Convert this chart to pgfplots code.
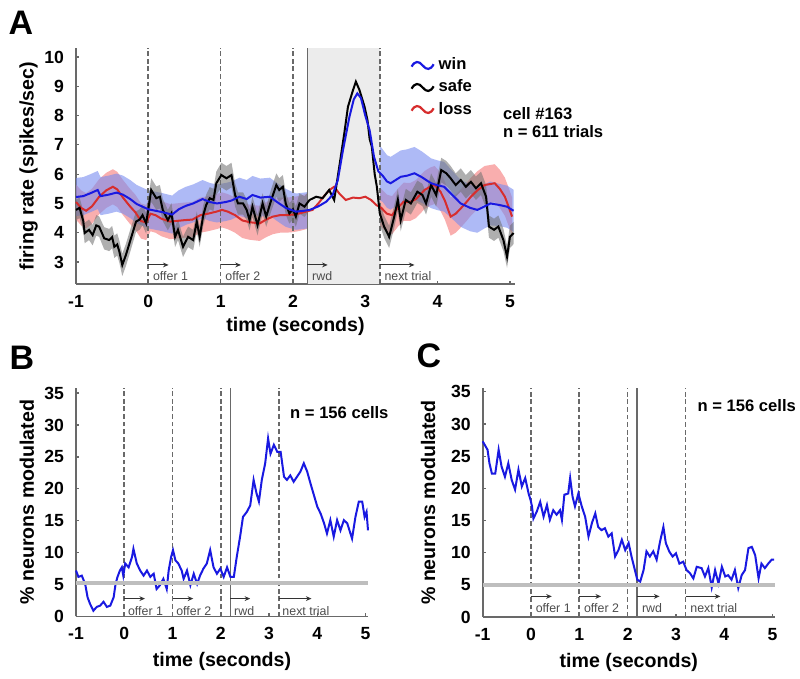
\documentclass[border=0pt]{standalone}
\usepackage{fontspec}
\setmainfont{Liberation Sans}
\usepackage{pgfplots}
\usepackage{pgfplotstable}
\pgfplotsset{compat=1.18}
\usepgfplotslibrary{fillbetween}
\usetikzlibrary{arrows.meta}

\definecolor{axgray}{RGB}{105,105,105}
\definecolor{evgray}{RGB}{105,105,105}
\definecolor{winline}{RGB}{25,25,225}
\definecolor{lossline}{RGB}{215,45,45}
\definecolor{winband}{RGB}{120,140,240}
\definecolor{lossband}{RGB}{245,120,120}
\definecolor{safeband}{RGB}{110,110,110}
\definecolor{shadegray}{RGB}{236,236,236}
\definecolor{chancegray}{RGB}{190,190,190}

\pgfplotstableread{
x y e
-1.00 5.22 0.65
-0.90 5.25 0.65
-0.80 5.35 0.65
-0.70 5.46 0.65
-0.66 5.25 0.65
-0.55 5.30 0.65
-0.44 5.37 0.65
-0.35 5.30 0.65
-0.25 5.15 0.65
-0.16 4.98 0.65
-0.08 4.89 0.65
0.00 4.80 0.65
0.10 4.75 0.65
0.20 4.70 0.65
0.33 4.62 0.65
0.42 4.80 0.65
0.52 4.92 0.65
0.62 5.00 0.65
0.75 5.15 0.65
0.85 5.05 0.65
0.95 5.00 0.65
1.07 5.05 0.65
1.15 5.10 0.65
1.26 5.23 0.65
1.36 5.15 0.65
1.44 5.29 0.65
1.55 5.20 0.65
1.68 5.23 0.65
1.78 5.05 0.65
1.90 4.85 0.65
2.04 4.72 0.62
2.15 4.75 0.62
2.23 4.78 0.62
2.35 4.90 0.65
2.46 5.06 0.70
2.55 5.30 0.80
2.62 5.80 0.90
2.69 6.80 1.00
2.78 7.95 1.10
2.84 8.55 1.10
2.89 8.76 1.10
2.94 8.60 1.10
3.00 8.00 1.10
3.06 7.50 1.05
3.12 6.60 1.00
3.18 6.10 0.95
3.24 5.95 0.90
3.30 5.75 0.90
3.35 5.69 0.90
3.42 5.80 0.90
3.49 5.91 0.90
3.58 5.95 0.90
3.68 6.03 0.90
3.78 5.90 0.88
3.91 5.69 0.85
4.00 5.62 0.85
4.09 5.57 0.85
4.20 5.30 0.82
4.32 5.00 0.80
4.45 4.85 0.80
4.55 4.78 0.78
4.65 4.90 0.75
4.73 5.00 0.75
4.85 4.95 0.72
4.96 4.89 0.72
5.05 4.75 0.72
}\winA

\pgfplotstableread{
x y e
-1.00 5.05 0.60
-0.93 4.85 0.60
-0.86 4.75 0.60
-0.78 4.90 0.60
-0.68 5.23 0.60
-0.58 5.45 0.60
-0.49 5.57 0.60
-0.43 5.48 0.60
-0.35 5.20 0.60
-0.26 4.92 0.60
-0.18 4.70 0.60
-0.10 4.40 0.60
-0.03 4.35 0.60
0.03 4.65 0.60
0.10 4.60 0.60
0.18 4.48 0.60
0.30 4.38 0.60
0.38 4.40 0.60
0.50 4.43 0.60
0.61 4.45 0.60
0.72 4.60 0.60
0.84 4.66 0.60
0.94 4.72 0.60
1.02 4.78 0.60
1.10 4.72 0.60
1.20 4.60 0.60
1.30 4.42 0.60
1.40 4.36 0.60
1.54 4.32 0.60
1.63 4.45 0.60
1.72 4.55 0.60
1.82 4.60 0.60
1.90 4.60 0.60
2.00 4.62 0.60
2.09 4.66 0.60
2.18 4.72 0.60
2.27 4.78 0.62
2.35 5.00 0.65
2.43 5.25 0.68
2.50 5.45 0.70
2.57 5.57 0.70
2.64 5.34 0.70
2.73 5.12 0.70
2.83 5.20 0.70
2.92 5.18 0.70
3.00 5.23 0.70
3.08 5.12 0.68
3.15 4.95 0.65
3.22 4.85 0.65
3.30 4.65 0.65
3.37 4.60 0.65
3.45 4.85 0.65
3.53 5.06 0.65
3.62 5.05 0.65
3.70 5.15 0.65
3.82 5.46 0.65
3.90 5.58 0.65
3.96 5.63 0.65
4.04 5.40 0.65
4.10 5.10 0.65
4.18 4.55 0.65
4.25 4.65 0.65
4.32 4.83 0.65
4.40 5.05 0.65
4.46 5.23 0.65
4.55 5.45 0.65
4.65 5.63 0.65
4.72 5.66 0.65
4.79 5.69 0.65
4.86 5.50 0.65
4.93 5.23 0.65
4.98 4.90 0.65
5.03 4.55 0.65
}\lossA

\pgfplotstableread{
x y e
-1.00 4.78 0.35
-0.95 4.85 0.35
-0.90 4.40 0.35
-0.88 3.99 0.35
-0.82 4.10 0.35
-0.77 3.92 0.35
-0.72 4.25 0.35
-0.68 4.21 0.35
-0.61 3.81 0.38
-0.54 3.75 0.38
-0.50 3.85 0.38
-0.47 3.52 0.38
-0.43 3.60 0.38
-0.40 3.35 0.38
-0.36 2.90 0.38
-0.31 3.24 0.38
-0.24 3.81 0.38
-0.17 4.38 0.35
-0.12 4.45 0.35
-0.08 4.60 0.35
-0.03 4.32 0.35
0.04 5.46 0.40
0.11 5.18 0.40
0.16 5.23 0.40
0.20 4.78 0.38
0.27 4.43 0.35
0.32 4.66 0.35
0.37 3.86 0.35
0.41 4.10 0.35
0.48 3.52 0.35
0.55 3.86 0.35
0.62 3.75 0.35
0.67 4.38 0.35
0.71 3.86 0.35
0.76 4.60 0.35
0.80 4.95 0.35
0.85 5.18 0.38
0.90 5.12 0.38
0.94 5.69 0.40
1.01 5.97 0.42
1.08 5.86 0.42
1.15 5.97 0.42
1.20 5.29 0.40
1.24 5.00 0.38
1.31 5.00 0.38
1.36 4.78 0.35
1.40 4.43 0.35
1.44 4.89 0.35
1.51 4.26 0.35
1.58 5.00 0.35
1.63 4.55 0.35
1.70 5.12 0.38
1.77 5.63 0.40
1.81 5.46 0.40
1.86 5.57 0.40
1.90 5.00 0.38
1.95 4.66 0.35
2.00 4.80 0.35
2.04 4.55 0.35
2.09 5.00 0.35
2.16 4.89 0.35
2.23 5.12 0.35
2.32 5.23 0.35
2.41 5.18 0.38
2.50 5.46 0.40
2.57 5.12 0.45
2.64 6.25 0.55
2.71 7.40 0.65
2.76 8.30 0.70
2.83 8.87 0.75
2.87 9.16 0.75
2.92 8.87 0.75
2.99 8.30 0.70
3.03 7.85 0.65
3.06 7.20 0.60
3.09 6.94 0.55
3.13 6.00 0.50
3.16 5.57 0.45
3.20 4.67 0.40
3.26 4.21 0.38
3.33 3.86 0.38
3.40 4.55 0.38
3.45 5.12 0.38
3.49 4.43 0.38
3.56 5.12 0.38
3.63 5.00 0.38
3.72 5.40 0.38
3.79 5.29 0.38
3.84 5.00 0.38
3.91 5.63 0.40
3.98 5.29 0.40
4.05 6.14 0.42
4.12 6.03 0.42
4.18 5.86 0.42
4.25 5.63 0.40
4.32 5.80 0.40
4.39 5.57 0.40
4.46 5.74 0.40
4.53 5.52 0.40
4.60 5.69 0.40
4.67 5.23 0.40
4.71 4.21 0.38
4.78 4.10 0.38
4.84 4.21 0.38
4.91 3.75 0.38
4.96 3.18 0.38
5.00 3.86 0.38
5.05 3.99 0.38
}\safeA

\pgfplotstableread{
x y
-1.00 7.2
-0.95 6.2
-0.88 6.4
-0.81 5.1
-0.76 3.0
-0.71 2.0
-0.64 0.9
-0.57 1.5
-0.50 1.7
-0.43 2.3
-0.36 1.5
-0.29 1.7
-0.22 3.0
-0.18 5.1
-0.14 6.2
-0.09 7.2
-0.05 7.7
-0.02 6.4
0.02 8.3
0.09 7.7
0.16 9.3
0.19 10.6
0.26 8.3
0.33 7.2
0.40 6.4
0.47 7.2
0.54 6.2
0.61 6.7
0.67 4.3
0.74 4.9
0.81 5.9
0.88 4.3
0.92 7.2
0.97 9.3
1.01 10.4
1.06 8.8
1.12 8.3
1.19 7.2
1.23 5.9
1.30 7.2
1.37 4.9
1.44 6.7
1.51 5.1
1.57 6.4
1.64 7.5
1.71 8.3
1.78 10.4
1.85 7.7
1.92 6.7
1.99 7.5
2.06 6.2
2.13 7.7
2.20 6.2
2.27 6.2
2.33 9.3
2.40 12.5
2.46 15.6
2.54 16.4
2.61 17.4
2.68 21.4
2.74 19.3
2.79 18.0
2.85 21.4
2.92 24.0
2.98 27.9
3.03 25.5
3.10 26.9
3.17 25.8
3.24 25.8
3.31 21.9
3.37 21.4
3.44 22.1
3.51 21.1
3.58 21.9
3.65 22.7
3.72 24.0
3.79 22.7
3.86 20.8
3.93 19.0
4.00 17.2
4.07 16.1
4.14 14.6
4.20 13.0
4.27 15.1
4.34 12.5
4.41 15.1
4.48 13.5
4.55 15.1
4.62 14.6
4.72 12.2
4.79 15.6
4.86 18.0
4.93 18.0
4.98 15.6
5.02 16.4
5.05 13.5
}\dataB

\pgfplotstableread{
x y
-1.00 27.3
-0.90 26.0
-0.86 23.9
-0.81 22.3
-0.74 22.3
-0.67 26.0
-0.61 23.4
-0.54 21.8
-0.47 23.9
-0.40 21.3
-0.33 19.8
-0.26 22.9
-0.19 20.3
-0.12 21.6
-0.05 19.2
-0.01 18.2
0.02 17.2
0.05 15.3
0.12 16.4
0.19 17.9
0.26 15.6
0.33 17.4
0.39 15.1
0.46 16.6
0.53 15.9
0.60 16.6
0.64 15.1
0.69 19.0
0.77 19.2
0.81 21.6
0.86 18.7
0.91 17.2
0.98 19.2
1.05 17.2
1.12 15.6
1.19 12.5
1.26 14.6
1.33 16.1
1.39 14.0
1.46 13.5
1.53 13.8
1.60 12.5
1.67 13.0
1.74 9.4
1.81 10.4
1.88 12.0
1.95 10.4
2.02 11.5
2.08 9.4
2.15 7.3
2.20 5.8
2.26 5.5
2.33 7.3
2.39 10.2
2.46 9.4
2.53 10.2
2.60 8.9
2.67 11.7
2.74 14.0
2.79 11.5
2.86 10.2
2.93 9.4
3.00 9.9
3.07 8.3
3.15 8.6
3.22 7.3
3.29 6.8
3.36 6.0
3.43 7.8
3.53 7.6
3.60 6.3
3.67 7.6
3.74 4.6
3.81 7.3
3.88 5.2
3.95 7.8
4.02 6.3
4.08 6.5
4.15 5.8
4.22 7.3
4.29 4.5
4.36 6.5
4.43 7.3
4.50 10.7
4.57 10.9
4.64 9.6
4.71 6.0
4.77 8.3
4.84 7.6
4.91 8.3
4.98 8.9
5.03 8.9
}\dataC

\tikzset{
  evdash/.style={evgray, line width=0.85pt, dash pattern=on 2.4pt off 1.4pt},
  evsolid/.style={evgray, line width=0.85pt},
  evarrow/.style={-{Stealth[length=2.8pt,width=2.4pt]}, line width=0.55pt, black!80},
  evtext/.style={font=\fontsize{6.2}{7}\selectfont, text=black!70, inner sep=0pt, anchor=west},
  boldtxt/.style={font=\fontsize{8.3}{10}\selectfont\bfseries},
}

\pgfplotsset{
  panel/.style={
    scale only axis,
    axis x line=bottom, axis y line=left,
    axis line style={-, axgray, line width=0.85pt},
    tick align=inside, major tick length=1.5pt,
    tick style={axgray, line width=0.6pt},
    xtick={-1,0,...,5},
    ticklabel style={font=\fontsize{8.8}{10}\selectfont\bfseries},
    xticklabel style={yshift=-2pt},
    yticklabel style={xshift=-2.5pt},
    /pgf/number format/assume math mode=true,
    label style={font=\fontsize{9.8}{12}\selectfont\bfseries},
    clip=false,
    xmin=-1,
  },
}

\begin{document}
\begin{tikzpicture}
\path (0,0) rectangle (400pt,339pt);

% ---------------- Panel A ----------------
\begin{axis}[panel, at={(38pt,197pt)}, anchor=south west,
  width=219.5pt, height=118pt,
  xmax=5.07, ymin=2.25, ymax=10.31, ytick={3,...,10},
  xlabel={time (seconds)}, ylabel={firing rate (spikes/sec)},
  xlabel style={at={(axis description cs:0.5,-0.178)}, anchor=center},
  ylabel style={at={(axis description cs:-0.108,0.5)}, anchor=center},
  legend image code/.code={\draw[#1, line width=1.1pt] (0pt,-0.6pt) .. controls (1.6pt,2.4pt) and (3.6pt,2.4pt) .. (5.5pt,0pt) .. controls (7.4pt,-2.4pt) and (9.4pt,-2.4pt) .. (11pt,0.6pt);},
  legend cell align=left,
  legend style={at={(axis cs:3.62,10.12)}, anchor=north west, draw=none, fill=none,
    font=\fontsize{8.3}{10}\selectfont\bfseries, row sep=-0.5pt, inner sep=0pt},
]
\fill[shadegray] (axis cs:2.2,2.25) rectangle (axis cs:3.2,10.31);
\draw[evdash] (axis cs:0,2.25) -- (axis cs:0,10.31);
\draw[evdash] (axis cs:1,2.25) -- (axis cs:1,10.31);
\draw[evdash] (axis cs:2,2.25) -- (axis cs:2,10.31);
\draw[evsolid] (axis cs:2.2,2.25) -- (axis cs:2.2,10.31);
\draw[evdash] (axis cs:3.2,2.25) -- (axis cs:3.2,10.31);

\addplot[name path=wu, draw=none, forget plot] table[x=x, y expr=\thisrow{y}+\thisrow{e}] {\winA};
\addplot[name path=wl, draw=none, forget plot] table[x=x, y expr=\thisrow{y}-\thisrow{e}] {\winA};
\addplot[name path=lu, draw=none, forget plot] table[x=x, y expr=\thisrow{y}+\thisrow{e}] {\lossA};
\addplot[name path=ll, draw=none, forget plot] table[x=x, y expr=\thisrow{y}-\thisrow{e}] {\lossA};
\addplot[name path=su, draw=none, forget plot] table[x=x, y expr=\thisrow{y}+\thisrow{e}] {\safeA};
\addplot[name path=sl, draw=none, forget plot] table[x=x, y expr=\thisrow{y}-\thisrow{e}] {\safeA};
\addplot[fill=lossband, fill opacity=0.6, draw=none, forget plot] fill between[of=lu and ll];
\addplot[fill=winband, fill opacity=0.6, draw=none, forget plot] fill between[of=wu and wl];
\addplot[fill=safeband, fill opacity=0.55, draw=none, forget plot] fill between[of=su and sl];

\addplot[lossline, line width=1pt, forget plot] table[x=x, y=y] {\lossA};
\addplot[black, line width=1pt, forget plot] table[x=x, y=y] {\safeA};
\addplot[winline, line width=1pt, forget plot] table[x=x, y=y] {\winA};

\addlegendimage{winline}
\addlegendentry{win}
\addlegendimage{black}
\addlegendentry{safe}
\addlegendimage{lossline}
\addlegendentry{loss}

\draw[evarrow] (axis cs:0,2.9) -- (axis cs:0.28,2.9);
\node[evtext] at (axis cs:0.06,2.53) {offer 1};
\draw[evarrow] (axis cs:1,2.9) -- (axis cs:1.28,2.9);
\node[evtext] at (axis cs:1.06,2.53) {offer 2};
\draw[evarrow] (axis cs:2.2,2.9) -- (axis cs:2.48,2.9);
\node[evtext] at (axis cs:2.26,2.53) {rwd};
\draw[evarrow] (axis cs:3.2,2.9) -- (axis cs:3.68,2.9);
\node[evtext] at (axis cs:3.26,2.53) {next trial};

\node[boldtxt, anchor=west, inner sep=0pt] at (axis cs:4.9,8.08) {cell \#163};
\node[boldtxt, anchor=west, inner sep=0pt] at (axis cs:4.9,7.47) {n = 611 trials};
\end{axis}

% ---------------- Panel B ----------------
\begin{axis}[panel, at={(38pt,30.75pt)}, anchor=south west,
  width=146pt, height=114.25pt,
  xmax=5.05, ymin=0, ymax=35.8, ytick={0,5,...,35},
  xlabel={time (seconds)}, ylabel={\% neurons modulated},
  xlabel style={at={(axis description cs:0.5,-0.198)}, anchor=center},
  ylabel style={at={(axis description cs:-0.168,0.5)}, anchor=center},
]
\draw[evdash] (axis cs:0,0) -- (axis cs:0,35.8);
\draw[evdash] (axis cs:1,0) -- (axis cs:1,35.8);
\draw[evdash] (axis cs:2,0) -- (axis cs:2,35.8);
\draw[evsolid] (axis cs:2.2,0) -- (axis cs:2.2,35.8);
\draw[evdash] (axis cs:3.2,0) -- (axis cs:3.2,35.8);
\addplot[winline, line width=1pt] table[x=x, y=y] {\dataB};
\addplot[chancegray, line width=1.8pt] coordinates {(-1,5.2) (5.05,5.2)};
\draw[evarrow] (axis cs:0,2.8) -- (axis cs:0.43,2.8);
\node[evtext] at (axis cs:0.07,0.8) {offer 1};
\draw[evarrow] (axis cs:1,2.8) -- (axis cs:1.43,2.8);
\node[evtext] at (axis cs:1.07,0.8) {offer 2};
\draw[evarrow] (axis cs:2.2,2.8) -- (axis cs:2.61,2.8);
\node[evtext] at (axis cs:2.27,0.8) {rwd};
\draw[evarrow] (axis cs:3.2,2.8) -- (axis cs:3.88,2.8);
\node[evtext] at (axis cs:3.27,0.8) {next trial};
\node[boldtxt, anchor=west, inner sep=0pt] at (axis cs:3.43,32.0) {n = 156 cells};
\end{axis}

% ---------------- Panel C ----------------
\begin{axis}[panel, at={(241.35pt,30.5pt)}, anchor=south west,
  width=146.15pt, height=114.5pt,
  xmax=5.05, ymin=0, ymax=35.6, ytick={0,5,...,35},
  xlabel={time (seconds)}, ylabel={\% neurons modulated},
  xlabel style={at={(axis description cs:0.5,-0.198)}, anchor=center},
  ylabel style={at={(axis description cs:-0.187,0.5)}, anchor=center},
]
\draw[evdash] (axis cs:0,0) -- (axis cs:0,35.6);
\draw[evdash] (axis cs:1,0) -- (axis cs:1,35.6);
\draw[evdash] (axis cs:2,0) -- (axis cs:2,35.6);
\draw[evsolid] (axis cs:2.2,0) -- (axis cs:2.2,35.6);
\draw[evdash] (axis cs:3.2,0) -- (axis cs:3.2,35.6);
\addplot[winline, line width=1pt] table[x=x, y=y] {\dataC};
\addplot[chancegray, line width=1.8pt] coordinates {(-1,5) (5.05,5)};
\draw[evarrow] (axis cs:0,3.2) -- (axis cs:0.43,3.2);
\node[evtext] at (axis cs:0.09,1.45) {offer 1};
\draw[evarrow] (axis cs:1,3.2) -- (axis cs:1.45,3.2);
\node[evtext] at (axis cs:1.09,1.45) {offer 2};
\draw[evarrow] (axis cs:2.2,3.2) -- (axis cs:2.66,3.2);
\node[evtext] at (axis cs:2.29,1.45) {rwd};
\draw[evarrow] (axis cs:3.2,3.2) -- (axis cs:3.92,3.2);
\node[evtext] at (axis cs:3.29,1.45) {next trial};
\node[boldtxt, anchor=west, inner sep=0pt] at (axis cs:3.44,32.8) {n = 156 cells};
\end{axis}

\node[font=\fontsize{17}{20}\selectfont\bfseries] at (10.5pt,327.5pt) {A};
\node[font=\fontsize{17}{20}\selectfont\bfseries] at (11pt,160pt) {B};
\node[font=\fontsize{17}{20}\selectfont\bfseries] at (214.5pt,161pt) {C};
\end{tikzpicture}
\end{document}
